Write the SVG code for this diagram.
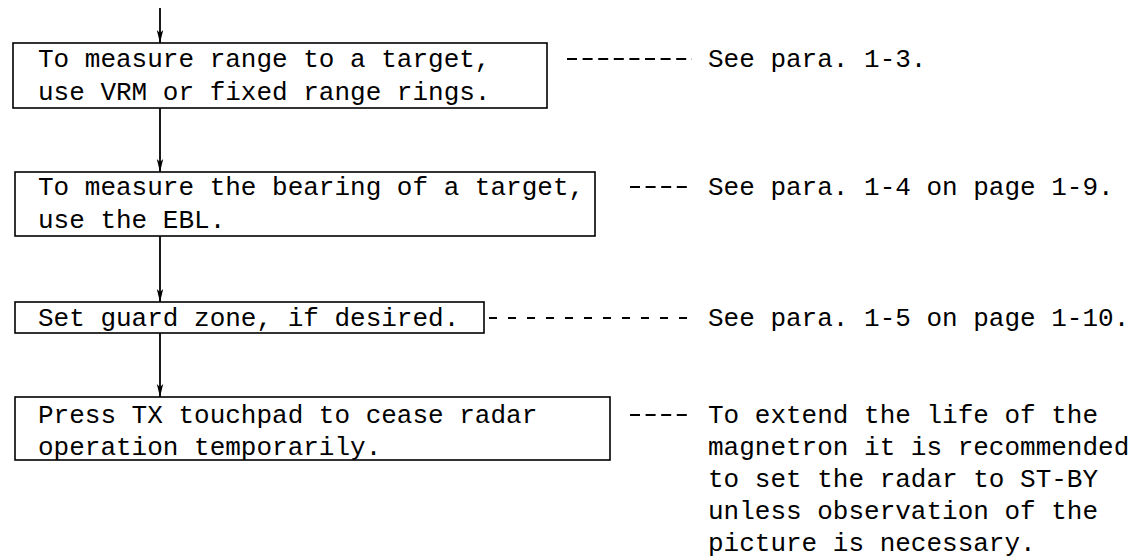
<svg xmlns="http://www.w3.org/2000/svg" width="1141" height="559" viewBox="0 0 1141 559">
  <defs>
    <style>
      .box { fill: #ffffff; stroke: #000000; stroke-width: 1.6; }
      .t { font-family: "Liberation Mono", "DejaVu Sans Mono", monospace; font-size: 26px; fill: #000000; }
      .flow { stroke: #000000; stroke-width: 1.8; fill: none; marker-end: url(#arrow); }
      .lead { stroke: #000000; stroke-width: 2; fill: none; stroke-dasharray: 10 5.6; }
      .lead2 { stroke: #000000; stroke-width: 2; fill: none; stroke-dasharray: 8 11; }
    </style>
    <marker id="arrow" markerWidth="14" markerHeight="8" refX="13" refY="4" orient="auto" markerUnits="userSpaceOnUse" viewBox="0 0 14 8">
      <path d="M0,0.8 L13,4 L0,7.2 L3,4 Z" fill="#000000"/>
    </marker>
  </defs>
  <rect width="1141" height="559" fill="#ffffff"/>

  <g id="connectors">
    <line class="flow" x1="160" y1="8" x2="160" y2="43"/>
    <line class="flow" x1="160" y1="108" x2="160" y2="172"/>
    <line class="flow" x1="160" y1="236" x2="160" y2="302"/>
    <line class="flow" x1="160" y1="333" x2="160" y2="397"/>
    <line class="lead" x1="567" y1="59" x2="692" y2="59"/>
    <line class="lead" x1="630" y1="187" x2="692" y2="187"/>
    <line class="lead2" x1="489" y1="318" x2="695" y2="318"/>
    <line class="lead" x1="630" y1="415" x2="692" y2="415"/>
  </g>

  <g id="node-range">
    <rect class="box" x="13" y="43" width="534" height="65"/>
    <text class="t" x="38" y="67">To measure range to a target,</text>
    <text class="t" x="38" y="100">use VRM or fixed range rings.</text>
  </g>
  <g id="note-range">
    <text class="t" x="708" y="67">See para. 1-3.</text>
  </g>

  <g id="node-bearing">
    <rect class="box" x="15" y="172" width="580" height="64"/>
    <text class="t" x="38" y="195">To measure the bearing of a target,</text>
    <text class="t" x="38" y="228">use the EBL.</text>
  </g>
  <g id="note-bearing">
    <text class="t" x="708" y="195">See para. 1-4 on page 1-9.</text>
  </g>

  <g id="node-guard">
    <rect class="box" x="15" y="302" width="469" height="31"/>
    <text class="t" x="38" y="326">Set guard zone, if desired.</text>
  </g>
  <g id="note-guard">
    <text class="t" x="708" y="326">See para. 1-5 on page 1-10.</text>
  </g>

  <g id="node-tx">
    <rect class="box" x="15" y="397" width="595" height="63"/>
    <text class="t" x="38" y="423">Press TX touchpad to cease radar</text>
    <text class="t" x="38" y="455">operation temporarily.</text>
  </g>
  <g id="note-tx">
    <text class="t" x="708" y="423">To extend the life of the</text>
    <text class="t" x="708" y="455">magnetron it is recommended</text>
    <text class="t" x="708" y="487">to set the radar to ST-BY</text>
    <text class="t" x="708" y="519">unless observation of the</text>
    <text class="t" x="708" y="551">picture is necessary.</text>
  </g>
</svg>
